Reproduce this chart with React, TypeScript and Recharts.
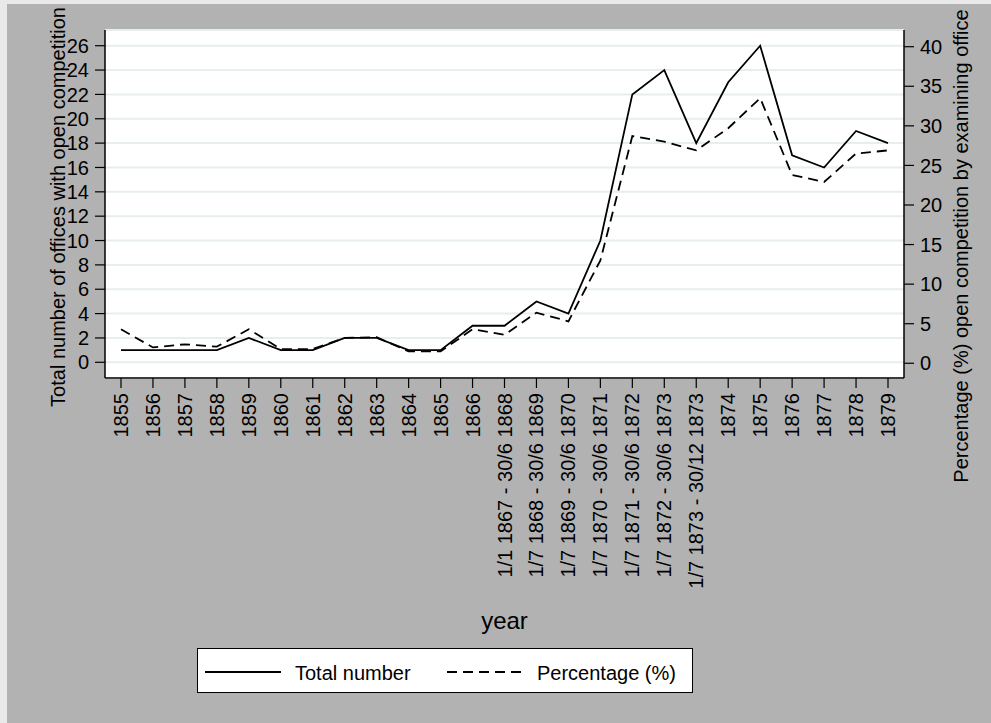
import { LineChart, Line, XAxis, YAxis, CartesianGrid, Legend } from 'recharts'

const FONT = '"Liberation Sans", Arial, Helvetica, sans-serif'

const periods = [
  '1855', '1856', '1857', '1858', '1859', '1860', '1861', '1862', '1863', '1864', '1865', '1866',
  '1/1 1867 - 30/6 1868', '1/7 1868 - 30/6 1869', '1/7 1869 - 30/6 1870', '1/7 1870 - 30/6 1871',
  '1/7 1871 - 30/6 1872', '1/7 1872 - 30/6 1873', '1/7 1873 - 30/12 1873',
  '1874', '1875', '1876', '1877', '1878', '1879',
]
const totalNumber = [1, 1, 1, 1, 2, 1, 1, 2, 2, 1, 1, 3, 3, 5, 4, 10, 22, 24, 18, 23, 26, 17, 16, 19, 18]
const percentage = [4.3, 2.0, 2.4, 2.1, 4.3, 1.8, 1.8, 3.2, 3.3, 1.5, 1.5, 4.3, 3.6, 6.4, 5.3, 13.0, 28.7, 28.0, 26.9, 29.7, 33.5, 23.8, 22.9, 26.5, 26.9]

const leftTicks = [0, 2, 4, 6, 8, 10, 12, 14, 16, 18, 20, 22, 24, 26]
const rightTicks = [0, 5, 10, 15, 20, 25, 30, 35, 40]

const data = periods.map((p, i) => ({ period: p, total: totalNumber[i], pct: percentage[i] }))

function PeriodTick({ x, y, payload }: any) {
  return (
    <text
      x={0} y={0} dy="0.35em" textAnchor="end"
      transform={`translate(${x},${y}) rotate(-90)`}
      fill="#000" fontSize={20} fontFamily={FONT}
    >
      {payload.value}
    </text>
  )
}

function LegendBox() {
  return (
    <div style={{ width: 496, height: 45, background: '#fff', border: '1px solid #000', boxSizing: 'border-box' }}>
      <svg width={494} height={43} style={{ display: 'block' }}>
        <line x1={7} x2={83} y1={23} y2={23} stroke="#000" strokeWidth={1.8} />
        <text x={97} y={31} fontSize={20} fontFamily={FONT} fill="#000">Total number</text>
        <line x1={249} x2={325} y1={23} y2={23} stroke="#000" strokeWidth={1.8} strokeDasharray="10 6" />
        <text x={339} y={31} fontSize={20} fontFamily={FONT} fill="#000">Percentage (%)</text>
      </svg>
    </div>
  )
}

export default function App() {
  return (
    <div style={{ position: 'absolute', left: 0, top: 0, width: 991, height: 723, background: '#b2b2b2' }}>
      <style>{'html,body{margin:0;background:#b2b2b2}'}</style>
      {/* light frame along the top and left edges */}
      <div style={{ position: 'absolute', left: 0, top: 0, width: 991, height: 4, background: '#e9e9e9' }} />
      <div style={{ position: 'absolute', left: 0, top: 0, width: 7, height: 723, background: '#e9e9e9' }} />
      <div style={{ position: 'absolute', left: 0, top: 0 }}>
        <LineChart width={991} height={723} data={data} margin={{ top: 30, right: 0, bottom: 0, left: 0 }}>
          <CartesianGrid yAxisId="left" vertical={false} fill="#fff" stroke="#e6eef0" strokeWidth={2} />
          <XAxis
            dataKey="period" interval={0} height={345} padding={{ left: 16, right: 16 }}
            tick={<PeriodTick />} tickSize={10} tickMargin={5}
            axisLine={{ stroke: '#000', strokeWidth: 1.5 }} tickLine={{ stroke: '#000', strokeWidth: 1.2 }}
            label={{ value: 'year', position: 'insideTop', dy: 229, fill: '#000', fontSize: 24, fontFamily: FONT }}
          />
          <YAxis
            yAxisId="left" width={105} domain={[-1.29, 27.29]} ticks={leftTicks} interval={0} allowDataOverflow
            tickSize={10} tickMargin={6} tick={{ fill: '#000', fontSize: 20, fontFamily: FONT }}
            axisLine={{ stroke: '#000', strokeWidth: 1.5 }} tickLine={{ stroke: '#000', strokeWidth: 1.2 }}
            label={{
              content: () => (
                <text x={65} y={207} transform="rotate(-90, 65, 207)" textAnchor="middle" fill="#000" fontSize={20} fontFamily={FONT}>
                  Total number of offices with open competition
                </text>
              ),
            }}
          />
          <YAxis
            yAxisId="right" orientation="right" width={87} domain={[-1.86, 42.11]} ticks={rightTicks} interval={0} allowDataOverflow
            tickSize={10} tickMargin={6} tick={{ fill: '#000', fontSize: 20, fontFamily: FONT }}
            axisLine={{ stroke: '#000', strokeWidth: 1.5 }} tickLine={{ stroke: '#000', strokeWidth: 1.2 }}
            label={{
              content: () => (
                <text x={968} y={246} transform="rotate(-90, 968, 246)" textAnchor="middle" fill="#000" fontSize={20} fontFamily={FONT}>
                  Percentage (%) open competition by examining office
                </text>
              ),
            }}
          />
          <Legend
            layout="vertical" verticalAlign="middle" align="center"
            content={() => <LegendBox />}
            wrapperStyle={{ position: 'absolute', left: 197, top: 648, width: 496, height: 45 }}
          />
          <Line yAxisId="left" type="linear" dataKey="total" name="Total number" stroke="#000" strokeWidth={1.8} dot={false} isAnimationActive={false} />
          <Line yAxisId="right" type="linear" dataKey="pct" name="Percentage (%)" stroke="#000" strokeWidth={1.8} strokeDasharray="10 6" dot={false} isAnimationActive={false} />
        </LineChart>
      </div>
    </div>
  )
}
